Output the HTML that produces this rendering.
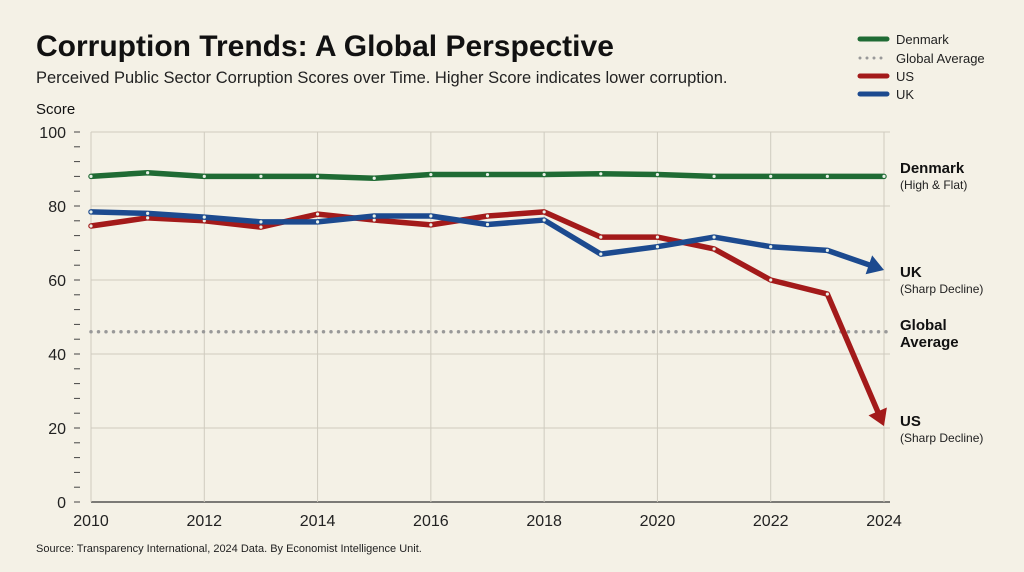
<!DOCTYPE html>
<html><head><meta charset="utf-8"><style>
body{margin:0;background:#f4f1e6;}
svg{display:block;font-family:"Liberation Sans",sans-serif;}
</style></head><body>
<svg id="chart" width="1024" height="572" viewBox="0 0 1024 572">
<rect width="1024" height="572" fill="#f4f1e6"/>
<text x="36" y="56" font-size="30" font-weight="bold" fill="#111">Corruption Trends: A Global Perspective</text>
<text x="36" y="83" font-size="16.5" fill="#222">Perceived Public Sector Corruption Scores over Time. Higher Score indicates lower corruption.</text>
<text x="36" y="114" font-size="15" fill="#111">Score</text>
<text x="36" y="552" font-size="11" fill="#222">Source: Transparency International, 2024 Data. By Economist Intelligence Unit.</text>
<g>
<g><line x1="860" y1="39" x2="887" y2="39" stroke="#1f6b34" stroke-width="5" stroke-linecap="round"/><text x="896" y="44" font-size="13" fill="#222">Denmark</text></g>
<g><line x1="860" y1="58" x2="887" y2="58" stroke="#999" stroke-width="3" stroke-dasharray="0 7" stroke-linecap="round"/><text x="896" y="63" font-size="13" fill="#222">Global Average</text></g>
<g><line x1="860" y1="76" x2="887" y2="76" stroke="#a31a1a" stroke-width="5" stroke-linecap="round"/><text x="896" y="81" font-size="13" fill="#222">US</text></g>
<g><line x1="860" y1="94" x2="887" y2="94" stroke="#1c4a8f" stroke-width="5" stroke-linecap="round"/><text x="896" y="99" font-size="13" fill="#222">UK</text></g>
</g>
<g id="grid"></g><g id="axes"></g><g id="series"></g><g id="labels"></g>
</svg>
<script>
const years=[2010,2011,2012,2013,2014,2015,2016,2017,2018,2019,2020,2021,2022,2023,2024];
const denmark=[88,89,88,88,88,87.5,88.5,88.5,88.5,88.7,88.5,88,88,88,88];
const uk=[78.4,78,77,75.7,75.7,77.3,77.3,75,76.2,67,69,71.6,69,68,62.7];
const us=[74.6,76.8,76,74.3,77.8,76.2,74.9,77.3,78.4,71.6,71.6,68.4,60,56.2,20.5];
const globalAvg=[46];
const yTicks=[0,20,40,60,80,100];
const xTicks=[2010,2012,2014,2016,2018,2020,2022,2024];
const NS="http://www.w3.org/2000/svg";
const X=v=>91+(v-2010)*(884-91)/14;
const Y=v=>502-v*3.7;
function mk(tag,attrs,parent){const e=document.createElementNS(NS,tag);for(const k in attrs)e.setAttribute(k,attrs[k]);document.getElementById(parent).appendChild(e);return e;}
yTicks.forEach(t=>{
 const l=mk('line',{x1:91,x2:884+6,y1:Y(t),y2:Y(t),stroke:t===0?'#333':'#cfcbbf','stroke-width':t===0?1.2:1},'grid');
 
 
 const tx=mk('text',{x:66,y:Y(t)+6,'text-anchor':'end','font-size':16,fill:'#222'},'axes');tx.textContent=t;
 
 
});
for(let v=0;v<=100;v+=4){const m=mk('line',{x1:74,x2:80,y1:Y(v),y2:Y(v),stroke:'#444','stroke-width':1},'axes');
 
 }
xTicks.forEach(t=>{
 const l=mk('line',{x1:X(t),x2:X(t),y1:Y(100),y2:Y(0),stroke:'#cfcbbf','stroke-width':1},'grid');
 
 
 const tx=mk('text',{x:X(t),y:526,'text-anchor':'middle','font-size':16,fill:'#222'},'axes');tx.textContent=t;
 
 
});
const ga=mk('line',{x1:X(2010),x2:X(2024)+6,y1:Y(globalAvg[0]),y2:Y(globalAvg[0]),stroke:'#999','stroke-width':3.5,'stroke-dasharray':'0 7.5','stroke-linecap':'round'},'series');


function series(vals,color,name,arrow){
 let pts=vals.map((v,i)=>[X(years[i]),Y(v)]);
 if(arrow){const n=pts.length,a=pts[n-2],b=pts[n-1],dx=b[0]-a[0],dy=b[1]-a[1],L=Math.hypot(dx,dy),ux=dx/L,uy=dy/L;
  const bx=b[0]-ux*16,by=b[1]-uy*16;
  const h=mk('polygon',{points:`${b[0]},${b[1]} ${bx-uy*10},${by+ux*10} ${bx+uy*10},${by-ux*10}`,fill:color},'series');
  
  
  pts=pts.slice();pts[n-1]=[bx+ux*2,by+uy*2];}
 const p=mk('polyline',{points:pts.map(q=>q.join(',')).join(' '),fill:'none',stroke:color,'stroke-width':5.5,'stroke-linejoin':'round','stroke-linecap':'round'},'series');
 
 
 vals.forEach((v,i)=>{if(arrow&&i===vals.length-1)return;const c=mk('circle',{cx:X(years[i]),cy:Y(v),r:1.6,fill:'#e8f0e8'},'series');
  
  });
}
series(denmark,'#1f6b34','denmark',false);
series(us,'#a31a1a','us',true);
series(uk,'#1c4a8f','uk',true);
function lab(y,main,sub,name){const t=mk('text',{x:900,y:y,'font-size':15,'font-weight':'bold',fill:'#111'},'labels');t.textContent=main;
 
 
 if(sub){const s=mk('text',{x:900,y:y+16,'font-size':12,fill:'#222'},'labels');s.textContent=sub;
 
 }}
lab(173,'Denmark','(High & Flat)','denmark');
lab(277,'UK','(Sharp Decline)','uk');
lab(330,'Global',null,'global-average');
lab(347,'Average',null,'global-average-2');
lab(426,'US','(Sharp Decline)','us');
</script>
</body></html>
